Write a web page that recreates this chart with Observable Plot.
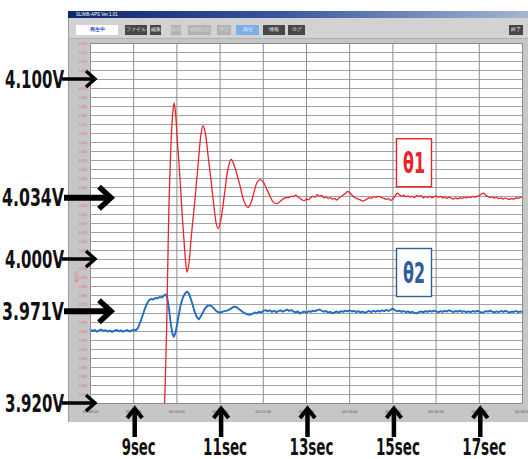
<!DOCTYPE html>
<html><head><meta charset="utf-8">
<script src="https://cdn.jsdelivr.net/npm/d3@7"></script>
<script src="https://cdn.jsdelivr.net/npm/@observablehq/plot@0.6"></script>
<style>
html,body{margin:0;padding:0;background:#fff;}
#wrap{position:relative;width:528px;height:459px;overflow:hidden;font-family:"Liberation Sans",Arial,sans-serif;}
#win{position:absolute;left:68px;top:11px;width:460px;height:411px;background:#c6c6c6;border-left:1px solid #9a9a9a;box-sizing:border-box;}
#title{position:absolute;left:68px;top:11px;width:460px;height:7px;background:linear-gradient(90deg,#0f256c,#35559c 45%,#a6b4d2);color:#fff;font-size:4.5px;line-height:7px;padding-left:8px;box-sizing:border-box;}
#tb{position:absolute;left:69px;top:18px;width:459px;height:21px;background:#d2d2d2;border-bottom:1px solid #b0b0b0;box-sizing:border-box;}
.b{position:absolute;top:25px;height:10px;font-size:4.5px;line-height:10px;text-align:center;color:#eee;}
.d{background:#474747;}
.l{background:#b3b3b3;color:#d8d8d8;}
#chart{position:absolute;left:0;top:0;}
</style></head>
<body><div id="wrap">
<div id="win"></div>
<div id="title">SLIMB-APS Ver.1.01</div>
<div id="tb"></div>
<div class="b" style="left:76px;width:42px;background:#fff;color:#2040c0;font-weight:bold;">再生中</div>
<div class="b d" style="left:125px;width:22px;">ファイル</div>
<div class="b d" style="left:150px;width:11px;">編集</div>
<div class="b l" style="left:171px;width:10px;">表示</div>
<div class="b l" style="left:188px;width:23px;">補助設定</div>
<div class="b l" style="left:217px;width:14px;">停止</div>
<div class="b" style="left:236px;width:23px;background:#7eaee8;color:#e8f0ff;">再生</div>
<div class="b d" style="left:263px;width:22px;">情報</div>
<div class="b d" style="left:288px;width:17px;">ログ</div>
<div class="b d" style="left:509px;width:14px;">終了</div>
<div id="chart"></div>
</div>
<script>
// ---- data ----
const seconds = [8, 9, 10, 11, 12, 13, 14, 15, 16, 17, 18];
const secLabels = ["00:08:00","00:09:00","00:10:00","00:11:00","00:12:00","00:13:00","00:14:00","00:15:00","00:16:00","00:17:00","00:18:00"];
const voltMarks = [4.100, 4.034, 4.000, 3.971, 3.920];
const voltLabels = ["4.100V", "4.034V", "4.000V", "3.971V", "3.920V"];
const steadyLevels = [4.034, 3.971];
const timeMarks = [9, 11, 13, 15, 17];
const timeLabels = ["9sec", "11sec", "13sec", "15sec", "17sec"];
const seriesNames = ["θ1", "θ2"];
const seriesLabelT = [15.5, 15.5];
const seriesLabelV = [4.0535, 3.9925];

// θ1 (red) transient
const redT = [9.715, 9.74, 9.766, 9.80, 9.82, 9.845, 9.866, 9.90, 9.935, 9.97, 10.01, 10.05, 10.085, 10.12, 10.16, 10.20, 10.236, 10.28, 10.33, 10.42, 10.51, 10.56, 10.607, 10.66, 10.72, 10.78, 10.86, 10.91, 10.955, 11.01, 11.10, 11.18, 11.256, 11.33, 11.45, 11.56, 11.65, 11.72, 11.79, 11.86, 11.93, 12.00, 12.12, 12.23, 12.32, 12.40, 12.50];
const redV = [3.920, 3.940, 3.966, 4.012, 4.033, 4.052, 4.066, 4.080, 4.087, 4.081, 4.066, 4.053, 4.040, 4.026, 4.012, 3.999, 3.993, 3.998, 4.012, 4.034, 4.058, 4.070, 4.0744, 4.070, 4.058, 4.046, 4.029, 4.020, 4.0172, 4.021, 4.036, 4.050, 4.0556, 4.052, 4.042, 4.032, 4.0289, 4.032, 4.038, 4.043, 4.0444, 4.043, 4.037, 4.032, 4.031, 4.0325, 4.0342];
// θ1 steady, sampled every 0.05 s from 12.60 s
const redSteadyStart = 12.60;
const redSteadyV = [4.0345,4.0352,4.0349,4.0358,4.0347,4.0340,4.0331,4.0327,4.0336,4.0333,4.0345,4.0351,4.0347,4.0360,4.0352,4.0356,4.0342,4.0348,4.0339,4.0344,4.0335,4.0339,4.0330,4.0342,4.0350,4.0358,4.0366,4.0378,4.0371,4.0358,4.0347,4.0340,4.0336,4.0331,4.0325,4.0329,4.0336,4.0344,4.0340,4.0349,4.0345,4.0351,4.0348,4.0343,4.0339,4.0334,4.0338,4.0328,4.0337,4.0352,4.0369,4.0360,4.0352,4.0357,4.0349,4.0353,4.0346,4.0351,4.0344,4.0356,4.0350,4.0355,4.0343,4.0349,4.0345,4.0350,4.0344,4.0348,4.0353,4.0346,4.0351,4.0343,4.0347,4.0340,4.0346,4.0341,4.0336,4.0342,4.0337,4.0343,4.0340,4.0347,4.0342,4.0348,4.0344,4.0351,4.0346,4.0352,4.0355,4.0363,4.0369,4.0356,4.0350,4.0344,4.0348,4.0341,4.0345,4.0338,4.0342,4.0336,4.0341,4.0337,4.0334,4.0339,4.0335,4.0343,4.0339,4.0346,4.0342];

// θ2 (blue) baseline, sampled every 0.05 s from 8.00 s
const blueBaseStart = 8.00;
const blueBaseV = [3.9610,3.9602,3.9608,3.9599,3.9606,3.9611,3.9603,3.9607,3.9600,3.9605,3.9598,3.9604,3.9609,3.9601,3.9606,3.9599,3.9603,3.9608,3.9600,3.9605,3.9610,3.9607];
// θ2 transient
const blueT = [9.10, 9.15, 9.20, 9.25, 9.30, 9.35, 9.40, 9.45, 9.50, 9.55, 9.60, 9.65, 9.70, 9.74, 9.78, 9.82, 9.86, 9.90, 9.93, 9.97, 10.02, 10.08, 10.14, 10.20, 10.24, 10.29, 10.35, 10.41, 10.46, 10.51, 10.57, 10.64, 10.71, 10.78, 10.85, 10.92, 11.00, 11.08, 11.16, 11.24, 11.32, 11.38, 11.45, 11.52, 11.60, 11.68];
const blueV = [3.9620, 3.9650, 3.9685, 3.9720, 3.9752, 3.9772, 3.9781, 3.9778, 3.9786, 3.9784, 3.9792, 3.9789, 3.9800, 3.9806, 3.9785, 3.9720, 3.9640, 3.9585, 3.9570, 3.9595, 3.9660, 3.9740, 3.9790, 3.9815, 3.9822, 3.9805, 3.9760, 3.9710, 3.9680, 3.9668, 3.9690, 3.9725, 3.9743, 3.9745, 3.9730, 3.9712, 3.9705, 3.9712, 3.9716, 3.9726, 3.9738, 3.9735, 3.9722, 3.9710, 3.9698, 3.9693];
// θ2 steady, sampled every 0.05 s from 11.75 s
const blueSteadyStart = 11.75;
const blueSteadyV = [3.9698,3.9706,3.9701,3.9710,3.9705,3.9714,3.9719,3.9712,3.9718,3.9709,3.9715,3.9708,3.9713,3.9717,3.9710,3.9716,3.9722,3.9714,3.9719,3.9711,3.9706,3.9712,3.9700,3.9707,3.9711,3.9704,3.9713,3.9709,3.9716,3.9712,3.9719,3.9722,3.9715,3.9710,3.9714,3.9706,3.9709,3.9701,3.9707,3.9711,3.9705,3.9713,3.9709,3.9716,3.9712,3.9718,3.9711,3.9715,3.9708,3.9713,3.9706,3.9711,3.9704,3.9709,3.9714,3.9708,3.9715,3.9710,3.9716,3.9711,3.9718,3.9713,3.9720,3.9714,3.9721,3.9727,3.9718,3.9712,3.9716,3.9709,3.9714,3.9707,3.9712,3.9705,3.9710,3.9703,3.9701,3.9708,3.9712,3.9706,3.9713,3.9709,3.9715,3.9710,3.9716,3.9712,3.9707,3.9713,3.9709,3.9715,3.9711,3.9718,3.9713,3.9708,3.9714,3.9710,3.9716,3.9709,3.9713,3.9707,3.9712,3.9708,3.9714,3.9709,3.9715,3.9711,3.9705,3.9708,3.9713,3.9710,3.9716,3.9711,3.9706,3.9712,3.9708,3.9714,3.9709,3.9715,3.9710,3.9705,3.9711,3.9709,3.9714,3.9708,3.9712,3.9707];

// ---- build tables ----
const step = 0.05;
const red = [
  ...redT.map((t, i) => ({t, v: redV[i]})),
  ...redSteadyV.map((v, i) => ({t: redSteadyStart + i * step, v}))
].filter(d => d.t <= 18.0001);
const blue = [
  ...blueBaseV.map((v, i) => ({t: blueBaseStart + i * step, v})),
  ...blueT.map((t, i) => ({t, v: blueV[i]})),
  ...blueSteadyV.map((v, i) => ({t: blueSteadyStart + i * step, v}))
].filter(d => d.t <= 18.0001);
const gridV = d3.range(0, 41).map(i => +(3.92 + i * 0.005).toFixed(3));

const RED = "#e8242c", BLUE = "#1d6ec4";

const chart = Plot.plot({
  width: 528, height: 459,
  marginLeft: 90, marginRight: 6, marginTop: 43, marginBottom: 56,
  x: {domain: [8, 18], axis: null},
  y: {domain: [3.92, 4.12], axis: null},
  style: {background: "transparent", fontFamily: "Liberation Sans, Arial, sans-serif", overflow: "visible"},
  marks: [
    Plot.frame({fill: "white", stroke: "none"}),
    Plot.ruleY(gridV, {stroke: "#a2a2a2", strokeWidth: 1}),
    Plot.ruleX(seconds, {stroke: "#8c8c8c", strokeWidth: 1}),
    Plot.text(gridV, {y: d => d, frameAnchor: "left", dx: -3, textAnchor: "end", text: d => d.toFixed(3), fontSize: 3.5, fill: "#e46a76"}),
    Plot.text(seconds, {x: d => d, frameAnchor: "bottom", dy: 9, text: (d, i) => secLabels[i], fontSize: 4, fill: "#555",
      textAnchor: (d, i) => i === seconds.length - 1 ? "end" : (i === 0 ? "start" : "middle")}),
    Plot.line(blue, {x: "t", y: "v", stroke: BLUE, strokeWidth: 1.9}),
    Plot.line(red, {x: "t", y: "v", stroke: RED, strokeWidth: 1.3, curve: "catmull-rom"}),
    Plot.frame({stroke: "#8c8c8c"})
  ]
});
document.getElementById("chart").appendChild(chart);

// ---- annotations, positioned through the plot's scales ----
const xs = chart.scale("x"), ys = chart.scale("y");
const svg = d3.select(chart);
const g = svg.append("g");
const FONT = "'Liberation Sans Narrow','DejaVu Sans Condensed','Liberation Sans',sans-serif";

// vertical tiny red caption in left strip
g.append("text").attr("transform", `translate(78,${ys.apply(3.99)}) rotate(-90)`)
  .attr("font-size", 4).attr("fill", "#e46a76").attr("text-anchor", "middle").text("電圧[V]");

voltMarks.forEach((v, i) => {
  const y = ys.apply(v);
  const heavy = steadyLevels.includes(v);
  g.append("text").attr("x", 64).attr("y", y + 8.6)
    .attr("text-anchor", "end").attr("font-family", FONT).attr("font-size", 24).attr("font-weight", "bold")
    .attr("textLength", heavy ? 62 : 59).attr("lengthAdjust", "spacingAndGlyphs")
    .attr("fill", "#111").text(voltLabels[i]);
  const x1 = heavy ? 64 : 62, x2 = heavy ? 111 : 95;
  const w = heavy ? 6 : 3.5, hl = heavy ? 12 : 9, hw = heavy ? 11 : 8;
  g.append("path").attr("d", `M${x1},${y}H${x2 - 2}`).attr("stroke", "#000").attr("stroke-width", w).attr("fill", "none");
  g.append("path").attr("d", `M${x2 - hl},${y - hw}L${x2},${y}L${x2 - hl},${y + hw}`)
    .attr("stroke", "#000").attr("stroke-width", heavy ? 5.5 : 3.5).attr("fill", "none")
    .attr("stroke-linejoin", "miter").attr("stroke-miterlimit", 6);
});

timeMarks.forEach((t, i) => {
  const x = xs.apply(t) + 1.5;
  g.append("path").attr("d", `M${x},437V410`).attr("stroke", "#000").attr("stroke-width", 4.5).attr("fill", "none");
  g.append("path").attr("d", `M${x - 7.5},418L${x},408.5L${x + 7.5},418`).attr("stroke", "#000").attr("stroke-width", 4).attr("fill", "none").attr("stroke-miterlimit", 6);
  const lab = timeLabels[i];
  g.append("text").attr("x", x + 4).attr("y", 455).attr("text-anchor", "middle")
    .attr("font-family", FONT).attr("font-size", 23).attr("font-weight", "bold")
    .attr("textLength", lab.length === 4 ? 34 : 44).attr("lengthAdjust", "spacingAndGlyphs")
    .attr("fill", "#111").text(lab);
});

seriesNames.forEach((name, i) => {
  const cx = xs.apply(seriesLabelT[i]), cy = ys.apply(seriesLabelV[i]);
  const col = i === 0 ? RED : "#2f5d9d";
  g.append("rect").attr("x", cx - 17.5).attr("y", cy - 24).attr("width", 35).attr("height", 48)
    .attr("fill", "white").attr("stroke", col).attr("stroke-width", 1.4);
  g.append("text").attr("x", cx).attr("y", cy + 10).attr("text-anchor", "middle")
    .attr("font-family", FONT).attr("font-size", 28).attr("font-weight", "bold")
    .attr("textLength", 22).attr("lengthAdjust", "spacingAndGlyphs")
    .attr("fill", col).text(name);
});
</script>
</body></html>
